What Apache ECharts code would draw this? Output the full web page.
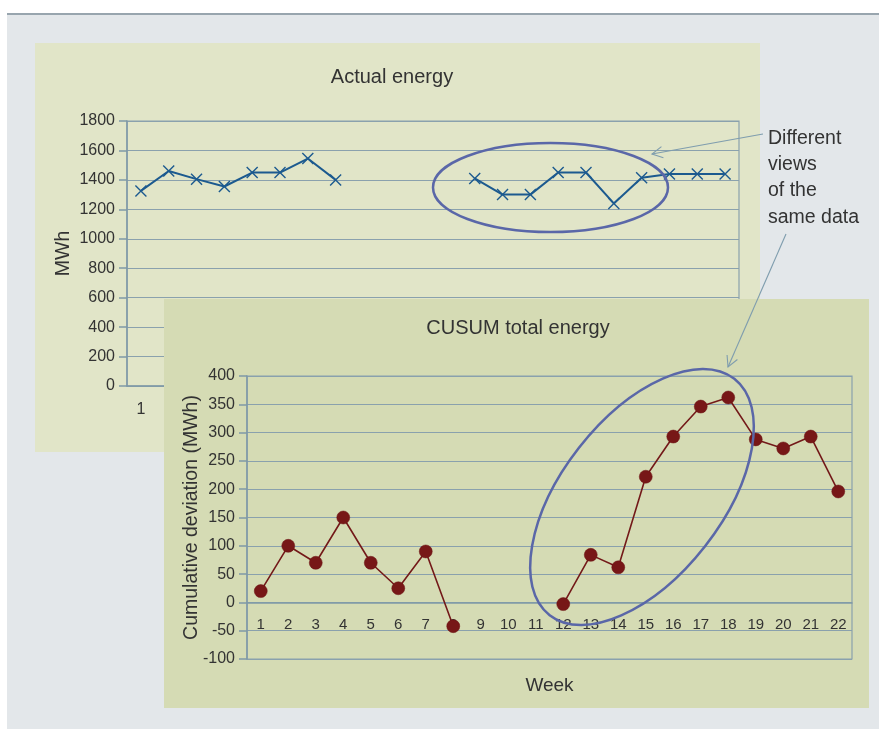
<!DOCTYPE html>
<html>
<head>
<meta charset="utf-8">
<style>
  html, body { margin: 0; padding: 0; background: #ffffff; }
  #chart { width: 879px; height: 729px; }
</style>
<script src="https://cdn.jsdelivr.net/npm/echarts@6/dist/echarts.min.js"></script>
</head>
<body>
<div id="chart"></div>
<script>
// ---- data ----
const weeks = ['1','2','3','4','5','6','7','8','9','10','11','12','13','14','15','16','17','18','19','20','21','22'];
const actualEnergy = [1325, 1460, 1405, 1355, 1450, 1450, 1545, 1400, null, null, null, null,
                      1410, 1300, 1300, 1450, 1450, 1240, 1415, 1440, 1440, 1440];
const cusumDeviation = [20, 100, 70, 150, 70, 25, 90, -42, null, null, null,
                        -3, 84, 62, 222, 293, 346, 362, 288, 272, 293, 196];
const actualAxis = { min: 0, max: 1800, interval: 200 };
const cusumAxis = { min: -100, max: 400, interval: 50 };
const annotationText = ['Different', 'views', 'of the', 'same data'];

// ---- styles ----
const FONT = 'Liberation Sans, Arial, Helvetica, sans-serif';
const TXT = '#333333';
const GRIDC = '#8aa1ad';
const AXISC = '#7f99a7';
const ARROWC = '#7f9dae';
const ELLC = '#5a67a8';
const plain = function (v) { return String(v); };

function arrow(x1, y1, x2, y2, z) {
  const dx = x2 - x1, dy = y2 - y1;
  const len = Math.sqrt(dx * dx + dy * dy);
  const ux = dx / len, uy = dy / len;
  const head = 12, ang = 28 * Math.PI / 180;
  const c = Math.cos(ang), s = Math.sin(ang);
  const ax = x2 - head * (ux * c - uy * s), ay = y2 - head * (uy * c + ux * s);
  const bx = x2 - head * (ux * c + uy * s), by = y2 - head * (uy * c - ux * s);
  return [
    { type: 'line', z: z, shape: { x1: x1, y1: y1, x2: x2, y2: y2 },
      style: { stroke: ARROWC, lineWidth: 1.1 } },
    { type: 'polyline', z: z, shape: { points: [[ax, ay], [x2, y2], [bx, by]] },
      style: { stroke: ARROWC, lineWidth: 1.1, fill: null } }
  ];
}

const chart = echarts.init(document.getElementById('chart'), null, { renderer: 'canvas' });

const crossSymbol = 'path://M0,0L10,10M10,0L0,10';

const option = {
  backgroundColor: '#ffffff',
  animation: false,
  textStyle: { fontFamily: FONT },
  title: [
    { text: 'Actual energy', left: 392, top: 67, textAlign: 'center', z: 2, padding: 0,
      textStyle: { fontFamily: FONT, fontSize: 20, fontWeight: 'normal', color: TXT } },
    { text: 'CUSUM total energy', left: 518, top: 318, textAlign: 'center', z: 7, padding: 0,
      textStyle: { fontFamily: FONT, fontSize: 20, fontWeight: 'normal', color: TXT } }
  ],
  grid: [
    { left: 127, top: 121, width: 612, height: 265, show: true, z: 1,
      outerBoundsMode: 'none', containLabel: false,
      borderColor: GRIDC, borderWidth: 1.2, backgroundColor: 'transparent' },
    { left: 247, top: 376, width: 605, height: 283, show: true, z: 6,
      outerBoundsMode: 'none', containLabel: false,
      borderColor: GRIDC, borderWidth: 1.2, backgroundColor: 'transparent' }
  ],
  xAxis: [
    { type: 'category', gridIndex: 0, data: weeks, boundaryGap: true, z: 1,
      axisLine: { lineStyle: { color: AXISC, width: 1.5 } },
      axisTick: { interval: 0, length: 8, lineStyle: { color: AXISC, width: 1.5 } },
      axisLabel: { interval: 0, margin: 16, fontSize: 16, color: TXT, fontFamily: FONT },
      splitLine: { show: false } },
    { type: 'category', gridIndex: 1, data: weeks, boundaryGap: true, z: 6,
      position: 'bottom', offset: 0,
      name: 'Week', nameLocation: 'middle', nameGap: 74, nameMoveOverlap: false,
      nameTextStyle: { fontSize: 19, color: TXT, fontFamily: FONT },
      axisLine: { onZero: false, lineStyle: { color: AXISC, width: 1.5 } },
      axisTick: { interval: 0, length: 7, lineStyle: { color: AXISC, width: 1.5 } },
      axisLabel: { interval: 0, margin: 15, fontSize: 15, color: TXT, fontFamily: FONT },
      splitLine: { show: false } }
  ],
  yAxis: [
    { type: 'value', gridIndex: 0, min: actualAxis.min, max: actualAxis.max, interval: actualAxis.interval, z: 1,
      name: 'MWh', nameLocation: 'middle', nameGap: 53, nameMoveOverlap: false,
      nameTextStyle: { fontSize: 19.5, color: TXT, fontFamily: FONT },
      axisLine: { show: true, lineStyle: { color: AXISC, width: 1.5 } },
      axisTick: { show: true, length: 8, lineStyle: { color: AXISC, width: 1.5 } },
      axisLabel: { margin: 12, fontSize: 16, color: TXT, fontFamily: FONT, formatter: plain },
      splitLine: { show: true, lineStyle: { color: GRIDC, width: 1.2 } } },
    { type: 'value', gridIndex: 1, min: cusumAxis.min, max: cusumAxis.max, interval: cusumAxis.interval, z: 6,
      name: 'Cumulative deviation (MWh)', nameLocation: 'middle', nameGap: 45, nameMoveOverlap: false,
      nameTextStyle: { fontSize: 19.5, color: TXT, fontFamily: FONT },
      axisLine: { show: true, onZero: false, lineStyle: { color: AXISC, width: 1.5 } },
      axisTick: { show: true, length: 8, lineStyle: { color: AXISC, width: 1.5 } },
      axisLabel: { margin: 12, fontSize: 16, color: TXT, fontFamily: FONT, formatter: plain },
      splitLine: { show: true, lineStyle: { color: GRIDC, width: 1.2 } } }
  ],
  series: [
    { type: 'line', xAxisIndex: 0, yAxisIndex: 0, data: actualEnergy, z: 2,
      connectNulls: false, symbol: crossSymbol, symbolSize: 11, showAllSymbol: true,
      lineStyle: { color: '#1c5a8f', width: 2 },
      itemStyle: { color: 'rgba(0,0,0,0)', borderColor: '#1c5a8f', borderWidth: 1.4 } },
    { type: 'line', xAxisIndex: 1, yAxisIndex: 1, data: cusumDeviation, z: 7,
      connectNulls: false, symbol: 'circle', symbolSize: 13, showAllSymbol: true,
      lineStyle: { color: '#731919', width: 1.6 },
      itemStyle: { color: '#771717', borderColor: '#6a1212', borderWidth: 0.5 } }
  ],
  graphic: {
    elements: [
      { type: 'rect', z: 0, shape: { x: 7, y: 13, width: 872, height: 2 }, style: { fill: '#98a5ae' } },
      { type: 'rect', z: 0, shape: { x: 7, y: 15, width: 872, height: 714 }, style: { fill: '#e3e7ea' } },
      { type: 'rect', z: 0, shape: { x: 35, y: 43, width: 725, height: 409 }, style: { fill: '#e1e5c8' } },
      { type: 'text', z: 0, x: 58, y: -20, style: { text: 'suggested', font: '19px ' + FONT, fill: TXT } },
      { type: 'text', z: 0, x: 404, y: -20, style: { text: 'p', font: '19px ' + FONT, fill: TXT } },
      { type: 'ellipse', z: 3, shape: { cx: 550.5, cy: 187.5, rx: 117.5, ry: 44.5 },
        style: { fill: null, stroke: ELLC, lineWidth: 2.5 } },
      ...arrow(763, 134, 652, 154, 3),
      { type: 'rect', z: 5, shape: { x: 164, y: 299, width: 705, height: 409 }, style: { fill: '#d5dbb4' } },
      { type: 'ellipse', z: 8, x: 642, y: 497, rotation: 52 * Math.PI / 180,
        shape: { cx: 0, cy: 0, rx: 150, ry: 80 },
        style: { fill: null, stroke: ELLC, lineWidth: 2.5 } },
      ...arrow(786, 234, 728, 367, 9),
      { type: 'text', z: 9, x: 768, y: 125,
        style: { text: annotationText.join('\n'), font: '19.5px ' + FONT, lineHeight: 26.4, fill: TXT, verticalAlign: 'top' } }
    ]
  }
};
chart.setOption(option);

// Move the week axis up to the zero line of the CUSUM value axis, using the library's own scale.
const yZero = chart.convertToPixel({ yAxisIndex: 1 }, 0);
const yBottom = chart.convertToPixel({ yAxisIndex: 1 }, cusumAxis.min);
chart.setOption({ xAxis: [{}, { offset: yZero - yBottom }] });
</script>
</body>
</html>
